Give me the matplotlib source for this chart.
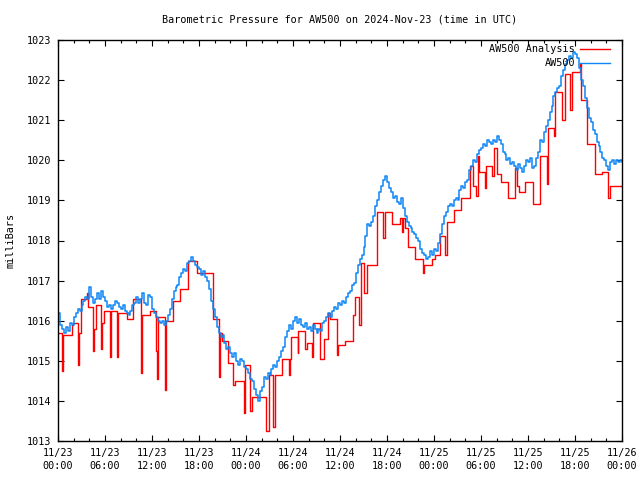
import matplotlib
matplotlib.use('Agg')
import matplotlib.pyplot as plt
import numpy as np

# AW500 raw readings, one value every 15 minutes from 11/23 00:00 (hours 0..72)
aw_mb = [
    1016.2, 1015.9, 1015.8, 1015.7, 1015.85, 1015.75, 1015.95, 1015.9,
    1016.1, 1016.2, 1016.3, 1016.25, 1016.4, 1016.5, 1016.6, 1016.55,
    1016.85, 1016.6, 1016.45, 1016.55, 1016.7, 1016.55, 1016.75, 1016.6,
    1016.5, 1016.35, 1016.4, 1016.3, 1016.4, 1016.5, 1016.45, 1016.35,
    1016.3, 1016.4, 1016.25, 1016.2, 1016.15, 1016.25, 1016.4, 1016.45,
    1016.6, 1016.45, 1016.55, 1016.7, 1016.45, 1016.4, 1016.65, 1016.6,
    1016.3, 1016.2, 1016.1, 1016.0, 1015.95, 1016.0, 1015.9, 1016.0,
    1016.15, 1016.3, 1016.55, 1016.75, 1016.85, 1016.9, 1017.1, 1017.2,
    1017.3, 1017.25, 1017.45, 1017.5, 1017.6, 1017.5, 1017.4, 1017.35,
    1017.3, 1017.15, 1017.25, 1017.1, 1017.0, 1016.8, 1016.5, 1016.3,
    1016.1, 1015.85, 1015.7, 1015.6, 1015.65, 1015.45, 1015.3, 1015.35,
    1015.2, 1015.1, 1015.2, 1015.0, 1014.9, 1015.05, 1015.0, 1014.85,
    1014.8, 1014.7, 1014.55, 1014.5, 1014.3, 1014.15, 1014.0, 1014.25,
    1014.35, 1014.6, 1014.55, 1014.7, 1014.65, 1014.8, 1014.9, 1014.85,
    1015.0, 1015.1, 1015.25, 1015.35, 1015.6, 1015.75, 1015.9, 1015.8,
    1016.0, 1016.1, 1015.95, 1016.05, 1015.9, 1015.85, 1015.95, 1015.8,
    1015.85, 1015.75, 1015.9, 1015.8, 1015.7, 1015.8, 1015.75, 1015.95,
    1016.0, 1016.1, 1016.2, 1016.1, 1016.25, 1016.35, 1016.3, 1016.45,
    1016.4, 1016.5, 1016.45, 1016.6, 1016.7, 1016.75, 1016.9, 1016.95,
    1017.2, 1017.4, 1017.55, 1017.65, 1017.85, 1018.1, 1018.4, 1018.35,
    1018.45, 1018.6, 1018.85, 1019.0, 1019.2, 1019.35, 1019.5, 1019.6,
    1019.45, 1019.3, 1019.2, 1019.05, 1019.1, 1018.95, 1018.9, 1019.05,
    1018.8, 1018.6, 1018.45, 1018.35, 1018.3, 1018.2, 1018.15, 1018.05,
    1018.0, 1017.8, 1017.7, 1017.65, 1017.55, 1017.6, 1017.75, 1017.65,
    1017.8, 1017.75, 1017.95, 1018.15, 1018.4, 1018.6, 1018.7, 1018.85,
    1018.9, 1018.85, 1019.0, 1019.05, 1019.0, 1019.25, 1019.35, 1019.3,
    1019.45, 1019.5, 1019.75, 1019.85, 1020.0, 1019.95, 1020.15, 1020.25,
    1020.3, 1020.4, 1020.35, 1020.5, 1020.45, 1020.4, 1020.5, 1020.45,
    1020.6, 1020.5, 1020.4, 1020.2, 1020.15, 1020.0, 1020.05, 1019.9,
    1019.95, 1019.85, 1019.75, 1019.9, 1019.8, 1019.7, 1019.85, 1020.0,
    1019.95, 1020.05, 1019.8, 1019.85, 1020.05, 1020.2, 1020.5, 1020.45,
    1020.7, 1020.85, 1021.0, 1021.2, 1021.35, 1021.6, 1021.7, 1021.8,
    1021.85, 1022.1, 1022.25, 1022.4, 1022.5, 1022.6, 1022.55, 1022.7,
    1022.65, 1022.55, 1022.3, 1022.0, 1021.85, 1021.55, 1021.3, 1021.05,
    1020.95, 1020.75, 1020.65, 1020.45, 1020.35, 1020.2, 1020.05, 1020.0,
    1019.85, 1019.75, 1019.95, 1020.0, 1019.9, 1020.0, 1019.95, 1020.0,
    1019.95,
]
aw_hours = np.arange(len(aw_mb)) * 0.25

# AW500 Analysis: step changes (hour since 11/23 00:00, value)
red_hours = [0.0, 0.47, 0.68, 1.74, 1.96, 2.51, 2.72, 2.9, 3.66, 3.83,
             4.51, 4.64, 4.81, 5.53, 5.66, 5.83, 6.6, 6.77, 7.53, 7.7,
             8.77, 9.62, 10.55, 10.72, 11.74, 12.55, 12.64, 12.77, 13.62, 13.74,
             14.72, 15.6, 16.6, 17.8, 19.75, 20.55, 20.7, 20.9, 21.7, 22.4,
             22.65, 23.7, 23.87, 24.5, 24.8, 26.6, 26.9, 27.5, 27.7, 28.55,
             29.5, 29.6, 29.75, 30.6, 30.7, 31.5, 31.75, 32.4, 32.6, 33.45,
             33.9, 34.5, 34.7, 35.6, 35.8, 36.6, 37.7, 37.9, 38.4, 38.7,
             39.1, 39.5, 40.7, 41.5, 41.75, 42.6, 43.7, 43.9, 44.1, 44.3,
             44.7, 45.6, 46.6, 46.7, 47.7, 48.1, 48.8, 49.4, 49.6, 50.5,
             51.5, 52.6, 53.0, 53.3, 53.6, 53.8, 54.5, 54.6, 55.4, 55.6,
             56.0, 56.6, 57.5, 58.4, 58.6, 58.8, 59.6, 60.7, 61.5, 62.4,
             62.6, 63.3, 63.45, 64.3, 64.7, 65.4, 65.6, 66.6, 66.8, 67.5,
             68.5, 69.4, 70.2, 70.5, 72.0]
red_mb = [1015.7, 1014.75, 1015.65, 1015.9, 1015.95, 1014.9, 1015.7, 1016.55, 1016.7, 1016.35,
          1015.25, 1015.8, 1016.4, 1015.3, 1015.95, 1016.25, 1015.1, 1016.25, 1015.1, 1016.2,
          1016.05, 1016.55, 1014.7, 1016.15, 1016.25, 1015.25, 1014.55, 1016.1, 1014.27, 1016.0,
          1016.5, 1016.8, 1017.5, 1017.2, 1016.05, 1014.6, 1015.7, 1015.5, 1014.95, 1014.4,
          1014.5, 1013.7, 1014.9, 1013.75, 1014.1, 1013.25, 1014.65, 1013.35, 1014.65, 1015.05,
          1014.65, 1015.05, 1015.6, 1015.2, 1015.75, 1015.3, 1015.45, 1015.1, 1015.95, 1015.05,
          1015.55, 1016.2, 1016.05, 1015.15, 1015.4, 1015.5, 1016.15, 1016.6, 1015.9, 1017.45,
          1016.7, 1017.4, 1018.7, 1018.05, 1018.7, 1018.4, 1018.55, 1018.2, 1018.55, 1018.3,
          1017.85, 1017.55, 1017.2, 1017.4, 1017.55, 1017.65, 1018.1, 1017.65, 1018.45, 1018.75,
          1019.05, 1019.85, 1019.35, 1019.1, 1020.1, 1019.7, 1019.3, 1019.85, 1019.6, 1020.3,
          1019.65, 1019.45, 1019.05, 1019.8, 1019.35, 1019.2, 1019.45, 1018.9, 1020.1, 1019.4,
          1020.8, 1020.6, 1021.7, 1021.0, 1022.15, 1021.25, 1022.2, 1022.4, 1021.5, 1020.4,
          1019.65, 1019.7, 1019.05, 1019.35, 1019.35]

tick_hours = [0, 6, 12, 18, 24, 30, 36, 42, 48, 54, 60, 66, 72]
tick_dates = ['11/23', '11/23', '11/23', '11/23', '11/24', '11/24', '11/24',
              '11/24', '11/25', '11/25', '11/25', '11/25', '11/26']
tick_times = ['00:00', '06:00', '12:00', '18:00', '00:00', '06:00', '12:00',
              '18:00', '00:00', '06:00', '12:00', '18:00', '00:00']

plt.rcParams['font.family'] = ['DejaVu Sans Mono']
plt.rcParams['font.size'] = 7.3

fig = plt.figure(figsize=(6.4, 4.8), dpi=100)
ax = fig.add_axes([58/640, 39/480, 564/640, 401/480])

red = '#ff0000'
blue = '#0e86f5'
ax.plot(red_hours, red_mb, drawstyle='steps-post', color=red, lw=1.0)
ax.plot(aw_hours, aw_mb, drawstyle='steps-post', color=blue, lw=1.1)

ax.set_xlim(0, 72)
ax.set_ylim(1013, 1023)
ax.set_yticks(range(1013, 1024))
ax.set_xticks(tick_hours)
ax.set_xticks(range(0, 73, 2), minor=True)
ax.set_xticklabels([d + '\n' + t for d, t in zip(tick_dates, tick_times)],
                   linespacing=1.4)
ax.tick_params(which='both', direction='in', top=True, right=True, width=0.8)
ax.tick_params(which='major', length=4.5)
ax.tick_params(which='minor', length=2.5)
ax.tick_params(axis='y', pad=5)
ax.tick_params(axis='x', pad=5)
for s in ax.spines.values():
    s.set_linewidth(1.0)

ax.set_ylabel('milliBars')
ax.yaxis.set_label_coords(-0.075, 0.5)
fig.text(0.53, 0.96, 'Barometric Pressure for AW500 on 2024-Nov-23 (time in UTC)',
         ha='center', va='center')

# gnuplot-style key: right-aligned text followed by a line sample
ax.text(0.917, 0.9776, 'AW500 Analysis', transform=ax.transAxes, ha='right', va='center')
ax.plot([0.9255, 0.9787], [0.9776, 0.9776], transform=ax.transAxes, color=red, lw=1.0)
ax.text(0.917, 0.9426, 'AW500', transform=ax.transAxes, ha='right', va='center')
ax.plot([0.9255, 0.9787], [0.9426, 0.9426], transform=ax.transAxes, color=blue, lw=1.0)

fig.savefig('out.png', dpi=100)
